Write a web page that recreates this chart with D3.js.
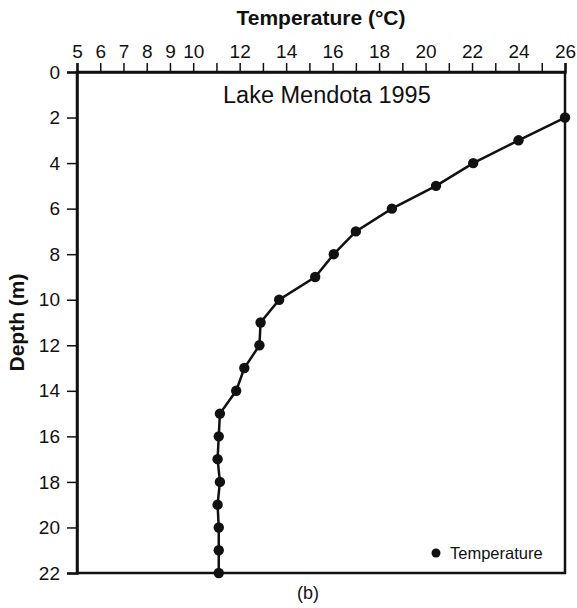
<!DOCTYPE html>
<html>
<head>
<meta charset="utf-8">
<script src="https://cdn.jsdelivr.net/npm/d3@7"></script>
<style>
  body { margin: 0; background: #fff; }
  text { font-family: "Liberation Sans", Arial, sans-serif; fill: #111; }
</style>
</head>
<body>
<div id="chart"></div>
<script>
// Data
const depths = [2, 3, 4, 5, 6, 7, 8, 9, 10, 11, 12, 13, 14, 15, 16, 17, 18, 19, 20, 21, 22];
const temps = [26.0, 24.0, 22.05, 20.45, 18.55, 17.0, 16.05, 15.25, 13.7, 12.9, 12.85, 12.2, 11.85, 11.15, 11.1, 11.05, 11.15, 11.05, 11.1, 11.1, 11.1];
const xTicks = [5, 6, 7, 8, 9, 10, 11, 12, 13, 14, 15, 16, 17, 18, 19, 20, 21, 22, 23, 24, 25, 26];
const xLabels = [5, 6, 7, 8, 9, 10, 12, 14, 16, 18, 20, 22, 24, 26];
const yTicks = [0, 2, 4, 6, 8, 10, 12, 14, 16, 18, 20, 22];

const data = depths.map((d, i) => ({depth: d, temp: temps[i]}));

// Set the dimensions and margins of the graph
const margin = {top: 72, right: 12, bottom: 35, left: 77},
    width = 577 - margin.left - margin.right,
    height = 608 - margin.top - margin.bottom;

const svg = d3.select("#chart")
  .append("svg")
    .attr("width", 577)
    .attr("height", 608)
  .append("g")
    .attr("transform", `translate(${margin.left}, ${margin.top})`);

const x = d3.scaleLinear().domain([5, 26]).range([0, width]);
const y = d3.scaleLinear().domain([0, 22]).range([0, height]);

// Frame (bottom and right edges)
svg.append("rect")
    .attr("width", width)
    .attr("height", height)
    .attr("fill", "none")
    .attr("stroke", "#111")
    .attr("stroke-width", 2.5);

// Top X axis
const xAxis = svg.append("g")
    .call(d3.axisTop(x)
      .tickValues(xTicks)
      .tickSize(9)
      .tickPadding(5)
      .tickFormat(d => xLabels.includes(d) ? d : ""));
xAxis.select(".domain").attr("stroke", "#111").attr("stroke-width", 2.5);
xAxis.selectAll(".tick line").attr("stroke", "#111").attr("stroke-width", 1.5);
xAxis.selectAll(".tick text")
    .style("font-size", "19px")
    .style("font-family", "'Liberation Sans', Arial, sans-serif")
    .attr("fill", "#111");

// Left Y axis
const yAxis = svg.append("g")
    .call(d3.axisLeft(y)
      .tickValues(yTicks)
      .tickSize(10)
      .tickPadding(7));
yAxis.select(".domain").attr("stroke", "#111").attr("stroke-width", 2.5);
yAxis.selectAll(".tick line").attr("stroke", "#111").attr("stroke-width", 1.5);
yAxis.selectAll(".tick text")
    .style("font-size", "19px")
    .style("font-family", "'Liberation Sans', Arial, sans-serif")
    .attr("fill", "#111");

// Axis titles
svg.append("text")
    .attr("x", width / 2)
    .attr("y", -47)
    .attr("text-anchor", "middle")
    .style("font-size", "21px")
    .style("font-weight", "bold")
    .text("Temperature (°C)");

svg.append("text")
    .attr("transform", "rotate(-90)")
    .attr("x", -height / 2)
    .attr("y", -53)
    .attr("text-anchor", "middle")
    .style("font-size", "21px")
    .style("font-weight", "bold")
    .text("Depth (m)");

// Chart title inside plot
svg.append("text")
    .attr("x", 146)
    .attr("y", 31)
    .style("font-size", "23.5px")
    .text("Lake Mendota 1995");

// Caption
svg.append("text")
    .attr("x", 231)
    .attr("y", 527)
    .attr("text-anchor", "middle")
    .style("font-size", "18px")
    .text("(b)");

// Line
const line = d3.line()
    .x(d => x(d.temp))
    .y(d => y(d.depth));

svg.append("path")
    .datum(data)
    .attr("fill", "none")
    .attr("stroke", "#111")
    .attr("stroke-width", 2.5)
    .attr("d", line);

// Points
svg.selectAll(".dot")
    .data(data)
    .enter()
    .append("circle")
      .attr("class", "dot")
      .attr("cx", d => x(d.temp))
      .attr("cy", d => y(d.depth))
      .attr("r", 5.2)
      .attr("fill", "#111");

// Legend
const legend = svg.append("g")
    .attr("transform", `translate(${width - 129}, ${height - 20})`);
legend.append("circle")
    .attr("r", 4.5)
    .attr("fill", "#111");
legend.append("text")
    .attr("x", 14)
    .attr("dy", "0.35em")
    .style("font-size", "16.5px")
    .text("Temperature");
</script>
</body>
</html>
